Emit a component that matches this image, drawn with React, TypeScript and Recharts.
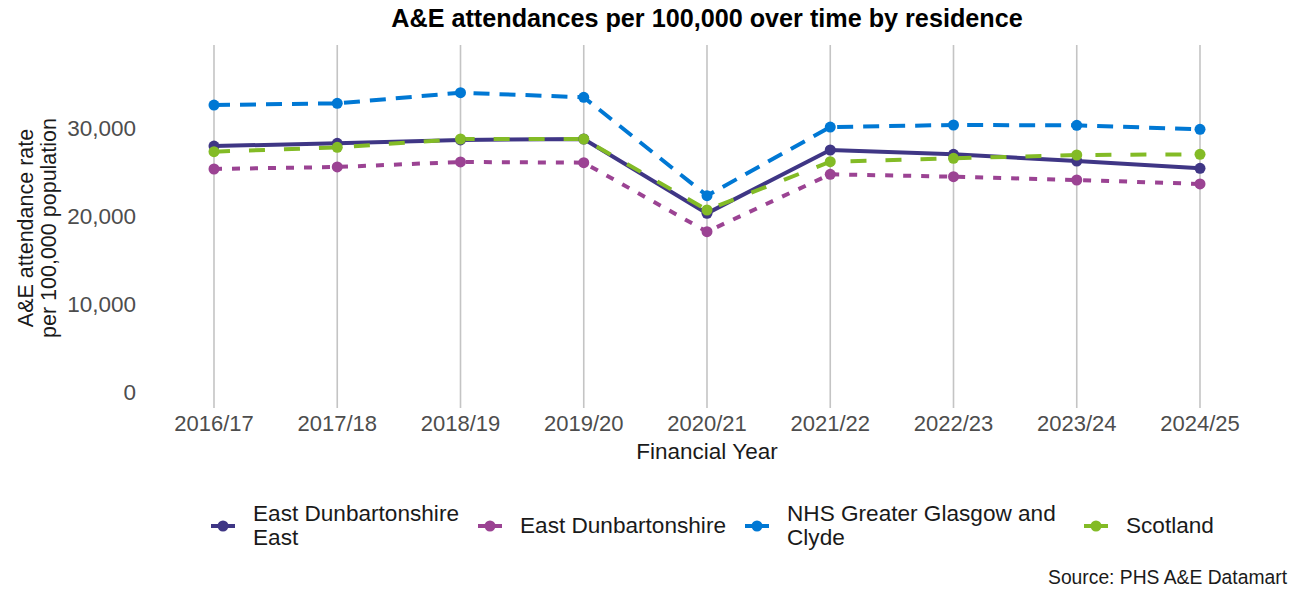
import React from 'react';
import { LineChart, Line, XAxis, YAxis, CartesianGrid } from 'recharts';

const years = ['2016/17', '2017/18', '2018/19', '2019/20', '2020/21', '2021/22', '2022/23', '2023/24', '2024/25'];
const edEast = [27950, 28260, 28640, 28750, 20300, 27500, 27010, 26250, 25420];
const edAll = [25340, 25570, 26140, 26060, 18220, 24740, 24470, 24090, 23640];
const ggc = [32610, 32800, 34010, 33490, 22310, 30110, 30340, 30300, 29850];
const scotland = [27310, 27800, 28750, 28750, 20680, 26170, 26550, 26930, 27010];
const yTicks = [0, 10000, 20000, 30000];

const seriesNames = ['East Dunbartonshire East', 'East Dunbartonshire', 'NHS Greater Glasgow and Clyde', 'Scotland'];
const seriesLegendLines = [['East Dunbartonshire', 'East'], ['East Dunbartonshire'], ['NHS Greater Glasgow and', 'Clyde'], ['Scotland']];
const colors = ['#3F3685', '#9B4393', '#0078D4', '#83BB26'];
const dashes = ['0', '8 10', '16 10', '16 19'];
const keys = ['edEast', 'edAll', 'ggc', 'scotland'];

const data = years.map((y, i) => ({
  year: y,
  edEast: edEast[i],
  edAll: edAll[i],
  ggc: ggc[i],
  scotland: scotland[i],
}));

const FONT = 'Liberation Sans, Arial, sans-serif';

const legendLefts = [211, 478, 745, 1084];

const LegendBox = () => (
  <div style={{ position: 'absolute', left: 0, top: 501, width: 1295, height: 50, fontFamily: FONT }}>
    {seriesLegendLines.map((lines, i) => (
      <div key={i} style={{ position: 'absolute', left: legendLefts[i], top: 0, height: 50, display: 'flex', alignItems: 'center' }}>
        <svg width={24} height={12} style={{ marginRight: 18, flexShrink: 0 }}>
          <line x1={0} y1={6} x2={24} y2={6} stroke={colors[i]} strokeWidth={4} />
          <circle cx={12} cy={6} r={5.5} fill={colors[i]} />
        </svg>
        <div style={{ fontSize: 22.6, lineHeight: '24px', color: '#1a1a1a', whiteSpace: 'nowrap' }}>
          {lines.map((l, j) => (
            <div key={j}>{l}</div>
          ))}
        </div>
      </div>
    ))}
  </div>
);

const YAxisTitle = () => (
  <g transform="translate(32.5,228) rotate(-90)">
    <text x={0} y={0} textAnchor="middle" fontFamily={FONT} fontSize={21.5} fill="#1a1a1a">
      {'A&E attendance rate'}
    </text>
    <text x={0} y={23} textAnchor="middle" fontFamily={FONT} fontSize={21.5} fill="#1a1a1a">
      {'per 100,000 population'}
    </text>
  </g>
);

export default function App() {
  return (
    <div style={{ position: 'absolute', left: 0, top: 0, width: 1295, height: 592, background: '#fff', fontFamily: FONT }}>
      <div style={{ position: 'absolute', left: 140, width: 1134, top: 4, lineHeight: '28px', textAlign: 'center', fontSize: 25.2, fontWeight: 'bold', color: '#000', whiteSpace: 'nowrap' }}>
        {'A&E attendances per 100,000 over time by residence'}
      </div>
      <LineChart width={1295} height={592} data={data} margin={{ top: 45, right: 21, bottom: 124, left: 0 }}>
        <CartesianGrid horizontal={false} vertical={true} syncWithTicks stroke="#c4c4c4" strokeWidth={1.6} />
        <XAxis
          dataKey="year"
          padding={{ left: 74, right: 74 }}
          axisLine={false}
          tickLine={false}
          tickSize={0}
          tickMargin={7}
          interval={0}
          tick={{ fontSize: 22, fill: '#4d4d4d', fontFamily: FONT }}
          label={{ value: 'Financial Year', position: 'insideBottom', offset: 9, fontSize: 22.5, fill: '#1a1a1a', fontFamily: FONT }}
          height={60}
        />
        <YAxis
          width={140}
          domain={[-1818, 39430]}
          ticks={yTicks}
          allowDataOverflow
          axisLine={false}
          tickLine={false}
          tickSize={0}
          tickMargin={4}
          tick={{ fontSize: 22.5, fill: '#4d4d4d', fontFamily: FONT }}
          tickFormatter={(v: number) => v.toLocaleString('en-US')}
          label={<YAxisTitle />}
        />
        {keys.map((k, i) => (
          <Line
            key={k}
            type="linear"
            dataKey={k}
            name={seriesNames[i]}
            stroke={colors[i]}
            strokeWidth={4}
            strokeDasharray={dashes[i]}
            dot={{ r: 5.5, fill: colors[i], stroke: colors[i], strokeWidth: 0, strokeDasharray: '0' }}
            activeDot={false}
            isAnimationActive={false}
          />
        ))}
      </LineChart>
      <LegendBox />
      <div style={{ position: 'absolute', right: 8, top: 567, lineHeight: '22px', fontSize: 19.3, color: '#1a1a1a', whiteSpace: 'nowrap' }}>
        {'Source: PHS A&E Datamart'}
      </div>
    </div>
  );
}
